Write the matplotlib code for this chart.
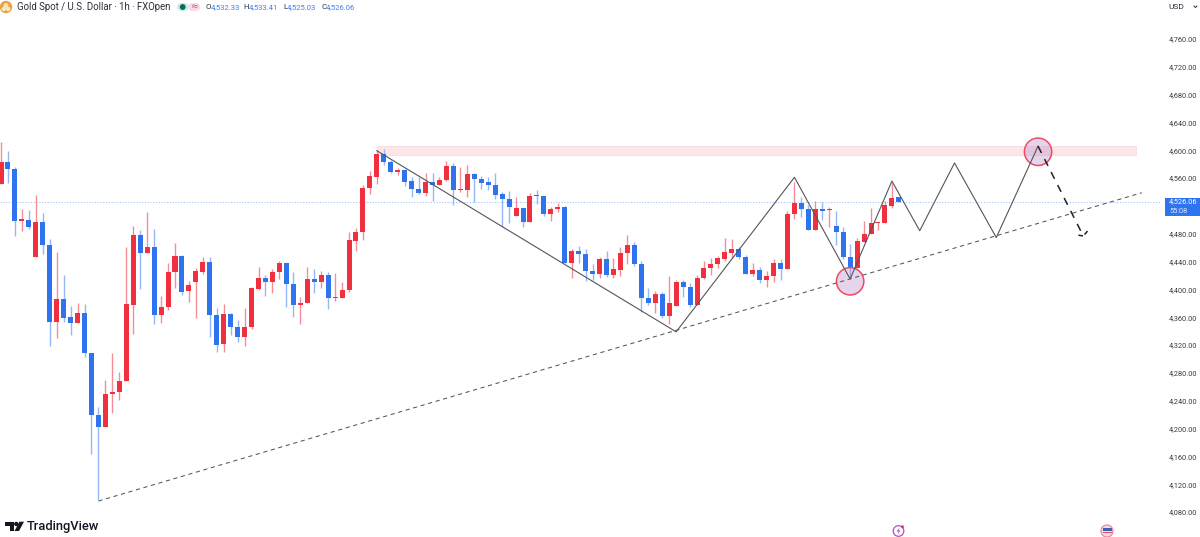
import matplotlib
matplotlib.use("Agg")
import matplotlib.pyplot as plt
from matplotlib.patches import Circle, Polygon, Rectangle, FancyBboxPatch

plt.rcParams['font.family'] = ['Roboto', 'DejaVu Sans']

# candles, one hour each
opens = [4552.0, 4582.8, 4572.7, 4498.4, 4500.3, 4446.2, 4497.0, 4463.4, 4353.2, 4386.7,
         4359.9, 4351.3, 4366.6, 4309.0, 4219.5, 4202.2, 4249.7, 4252.6, 4268.4, 4377.2,
         4477.8, 4452.8, 4461.4, 4362.8, 4374.3, 4425.1, 4448.1, 4397.3, 4410.3, 4424.6,
         4439.9, 4363.3, 4321.1, 4364.7, 4345.6, 4331.6, 4345.6, 4400.6, 4416.4, 4410.7,
         4425.1, 4437.6, 4407.4, 4378.1, 4380.5, 4415.0, 4410.3, 4420.3, 4388.1, 4388.1,
         4398.8, 4469.6, 4483.0, 4545.8, 4562.1, 4594.7, 4583.2, 4568.4, 4571.7, 4555.5,
         4544.8, 4538.2, 4554.9, 4550.1, 4557.3, 4577.9, 4543.0, 4543.4, 4566.4, 4558.3,
         4554.0, 4549.7, 4537.2, 4530.0, 4505.6, 4516.6, 4497.0, 4535.3, 4534.3, 4508.0,
         4515.6, 4518.9, 4437.6, 4454.8, 4451.4, 4426.5, 4422.2, 4443.3, 4421.2, 4427.9,
         4452.0, 4463.9, 4436.6, 4388.1, 4380.5, 4393.9, 4362.2, 4376.2, 4410.3, 4403.5,
         4377.2, 4416.4, 4431.0, 4436.6, 4444.2, 4452.0, 4458.6, 4446.2, 4422.2, 4427.9,
         4413.6, 4419.3, 4437.6, 4429.8, 4508.5, 4523.8, 4515.2, 4485.5, 4515.6, 4513.8,
         4490.8, 4482.6, 4447.1, 4430.4, 4468.2, 4479.7, 4495.5, 4495.9, 4520.4, 4532.33]
closes = [4582.8, 4572.7, 4498.8, 4500.8, 4489.3, 4497.0, 4463.4, 4353.2, 4386.7, 4359.4,
          4351.3, 4366.6, 4309.0, 4219.5, 4202.7, 4250.1, 4253.0, 4268.4, 4379.0, 4477.8,
          4452.8, 4461.4, 4362.8, 4374.3, 4425.5, 4448.1, 4396.3, 4406.4, 4426.5, 4439.9,
          4363.3, 4320.1, 4364.7, 4345.6, 4331.6, 4346.0, 4402.1, 4416.4, 4410.3, 4425.1,
          4437.6, 4407.4, 4378.1, 4380.9, 4415.0, 4410.3, 4420.3, 4387.3, 4389.1, 4399.6,
          4471.1, 4483.0, 4545.8, 4563.1, 4594.7, 4582.8, 4568.8, 4572.1, 4554.5, 4544.4,
          4538.2, 4554.9, 4550.1, 4557.3, 4577.9, 4543.0, 4544.0, 4566.4, 4558.3, 4553.4,
          4549.7, 4536.2, 4530.0, 4518.9, 4516.6, 4496.5, 4534.8, 4534.3, 4508.0, 4515.6,
          4518.9, 4437.6, 4454.8, 4451.4, 4426.5, 4422.2, 4443.3, 4421.2, 4429.0, 4452.0,
          4463.9, 4436.6, 4388.1, 4380.5, 4393.9, 4362.2, 4380.9, 4410.3, 4403.5, 4377.2,
          4416.9, 4431.3, 4436.6, 4445.2, 4453.4, 4458.6, 4446.2, 4422.2, 4427.9, 4413.6,
          4419.3, 4437.6, 4429.8, 4508.9, 4523.8, 4515.2, 4485.5, 4515.6, 4512.8, 4515.2,
          4482.6, 4447.1, 4430.4, 4469.2, 4480.1, 4495.5, 4496.9, 4521.8, 4531.5, 4526.06]
highs = [4612.4, 4599.4, 4576.4, 4515.6, 4514.2, 4535.3, 4509.5, 4472.0, 4453.8, 4421.2,
         4376.6, 4380.9, 4379.0, 4309.0, 4231.4, 4269.8, 4308.2, 4281.3, 4461.4, 4491.2,
         4485.5, 4511.3, 4486.5, 4390.6, 4438.4, 4466.3, 4449.1, 4412.6, 4430.4, 4447.1,
         4446.2, 4372.9, 4379.0, 4366.6, 4356.0, 4373.7, 4403.9, 4432.7, 4420.3, 4429.4,
         4440.9, 4439.9, 4425.5, 4388.7, 4432.7, 4429.8, 4426.9, 4424.6, 4423.2, 4410.3,
         4483.0, 4488.3, 4550.6, 4570.7, 4600.5, 4601.9, 4586.1, 4574.6, 4573.6, 4562.1,
         4561.2, 4567.0, 4567.0, 4561.2, 4584.6, 4582.2, 4575.6, 4578.5, 4567.8, 4563.1,
         4562.1, 4567.8, 4540.5, 4541.1, 4533.3, 4516.6, 4539.1, 4543.0, 4534.5, 4518.9,
         4523.8, 4520.0, 4458.1, 4462.9, 4458.6, 4436.6, 4446.2, 4455.3, 4444.8, 4460.6,
         4478.3, 4467.8, 4441.3, 4401.6, 4397.8, 4396.8, 4419.8, 4413.6, 4413.6, 4409.7,
         4420.8, 4441.3, 4445.2, 4448.1, 4474.0, 4472.9, 4461.4, 4449.5, 4437.6, 4431.8,
         4426.1, 4444.2, 4443.3, 4513.2, 4554.9, 4532.5, 4521.4, 4527.6, 4525.3, 4518.9,
         4513.2, 4489.3, 4465.3, 4474.4, 4498.8, 4516.6, 4497.0, 4527.1, 4552.6, 4533.41]
lows = [4552.0, 4553.4, 4476.8, 4484.4, 4487.3, 4446.2, 4450.9, 4318.7, 4329.8, 4353.6,
        4334.5, 4351.3, 4302.4, 4163.0, 4097.3, 4202.2, 4222.8, 4241.0, 4268.4, 4335.9,
        4400.6, 4452.8, 4350.3, 4352.2, 4370.4, 4402.1, 4392.4, 4381.9, 4358.5, 4421.8,
        4331.2, 4310.0, 4310.0, 4334.5, 4324.9, 4318.7, 4343.6, 4399.2, 4391.0, 4395.3,
        4414.6, 4375.2, 4360.4, 4350.3, 4380.5, 4395.3, 4402.1, 4371.9, 4383.0, 4388.1,
        4396.8, 4455.7, 4471.1, 4536.8, 4551.6, 4579.3, 4567.4, 4565.0, 4548.7, 4532.5,
        4537.6, 4534.3, 4526.7, 4550.1, 4555.5, 4521.4, 4540.5, 4532.5, 4525.3, 4544.4,
        4543.0, 4529.6, 4489.3, 4495.1, 4505.6, 4489.3, 4497.0, 4522.8, 4506.0, 4498.8,
        4511.8, 4437.6, 4416.0, 4438.4, 4412.1, 4413.6, 4416.9, 4417.9, 4416.4, 4419.8,
        4436.6, 4433.7, 4368.0, 4377.2, 4366.6, 4359.4, 4350.3, 4376.2, 4388.7, 4375.2,
        4377.2, 4414.6, 4420.8, 4430.4, 4440.5, 4445.2, 4444.2, 4422.2, 4419.3, 4409.7,
        4403.9, 4411.1, 4413.6, 4429.8, 4500.8, 4504.6, 4485.5, 4485.5, 4499.8, 4490.2,
        4463.9, 4444.2, 4416.4, 4430.4, 4468.2, 4479.7, 4485.5, 4495.9, 4516.6, 4525.03]

price_ticks = list(range(4080, 4761, 40))
last_price = 4526.06

# hand drawn stuff on the chart
zigzag_bars = [54, 97, 114, 122, 128, 132, 137, 143, 149]
zigzag_prices = [4599.4, 4339.0, 4561.2, 4415.0, 4555.8, 4484.4, 4581.8, 4474.6, 4606.0]
trend_bars = [14, 163.9]
trend_prices = [4095.8, 4539.0]
arrow_bars = [149, 155.5]
arrow_prices = [4606.0, 4476.8]
wing_bars = [154.8, 155.5, 156.2]
wing_prices = [4478.0, 4476.8, 4485.0]
zone_bars = [54, 163]
zone_prices = [4593.5, 4605.9]
circle_bars = [122, 149]
circle_prices = [4411.7, 4597.9]

UP = '#f0303f'
DOWN = '#2f74ee'
UP_WICK = '#f58d97'
DOWN_WICK = '#93b8f5'
LINE = '#55555a'

fig = plt.figure(figsize=(12, 5.37), dpi=100)
ax = fig.add_axes([0, 0, 1160 / 1200, 1])
ax.set_xlim(-0.144, 166.52)
ax.set_ylim(4044.1, 4816.07)

ax.add_patch(Rectangle((zone_bars[0], zone_prices[0]), zone_bars[1] - zone_bars[0],
                       zone_prices[1] - zone_prices[0], facecolor='#fde6e8',
                       edgecolor='#fbd6da', lw=0.5, zorder=1))
ax.axhline(last_price, color='#a5c3f5', lw=0.8, ls=(0, (1, 1.5)), zorder=1)

for i in range(len(opens)):
    up = closes[i] >= opens[i]
    ax.vlines(i, lows[i], highs[i], color=UP_WICK if up else DOWN_WICK, lw=1.0, zorder=2)
    bottom = min(opens[i], closes[i])
    height = max(abs(closes[i] - opens[i]), 1.5)
    ax.bar(i, height, bottom=bottom, width=0.72, color=UP if up else DOWN, lw=0, zorder=3)

ax.scatter(circle_bars, circle_prices, s=388, facecolor='#b784c8', alpha=0.35, lw=0, zorder=4)
ax.scatter(circle_bars, circle_prices, s=388, facecolor='none', edgecolor='#ee4a62', lw=1.1, zorder=5)

ax.plot(zigzag_bars, zigzag_prices, color=LINE, lw=0.8, zorder=6)
ax.plot(trend_bars, trend_prices, color=LINE, lw=0.75, ls=(0, (4, 3.5)), zorder=6)
ax.plot(arrow_bars, arrow_prices, color='#222222', lw=1.1, ls=(0, (5, 4.5)), zorder=6)
ax.plot(wing_bars, wing_prices, color='#222222', lw=1.1, ls=(0, (3, 1.5)), zorder=6)

for side in ax.spines.values():
    side.set_visible(False)
ax.set_xticks([])
ax.yaxis.tick_right()
ax.set_yticks(price_ticks)
ax.set_yticklabels([f"{p:,.2f}" for p in price_ticks])
ax.tick_params(axis='y', length=0, pad=6.5, labelsize=5.3, labelcolor='#3a3a3a')

# header, price tag and logos are placed in pixels
over = fig.add_axes([0, 0, 1, 1], zorder=10)
over.set_xlim(0, 1200)
over.set_ylim(537, 0)
over.axis('off')

over.add_patch(Circle((6, 7), 5.5, color='#e8a33a'))
over.add_patch(Circle((6, 5.5), 1.7, color='#fbe6c0'))
over.add_patch(Circle((3.8, 9), 1.5, color='#fbe6c0'))
over.add_patch(Circle((8.2, 9), 1.5, color='#fbe6c0'))
over.text(17, 7.2, "Gold Spot / U.S. Dollar · 1h · FXOpen", fontsize=6.9, color='#2a2e39', va='center')

over.add_patch(FancyBboxPatch((177, 3), 11.5, 8, boxstyle="round,pad=0,rounding_size=4", color='#cdeee6', lw=0))
over.add_patch(FancyBboxPatch((188.5, 3), 11.5, 8, boxstyle="round,pad=0,rounding_size=4", color='#fbdbe6', lw=0))
over.add_patch(Circle((182.7, 7), 2.2, color='#0b6b58'))
over.text(194, 7, "≈", fontsize=6.5, color='#e0487f', ha='center', va='center', family='DejaVu Sans')

ohlc_labels = ["O", "H", "L", "C"]
ohlc_values = ["4,532.33", "4,533.41", "4,525.03", "4,526.06"]
ohlc_label_x = [205, 243, 283, 321]
ohlc_value_x = [211, 249, 287, 326]
for lab, val, lx, vx in zip(ohlc_labels, ohlc_values, ohlc_label_x, ohlc_value_x):
    over.text(lx, 7.2, lab, fontsize=5.6, color='#2a2e39', va='center')
    over.text(vx, 7.2, val, fontsize=5.5, color='#3f7fe8', va='center')

over.text(1168, 6.8, "USD", fontsize=6.0, color='#2a2e39', va='center')
over.plot([1194, 1195.5, 1197], [6, 7.5, 6], color='#2a2e39', lw=0.7)

over.add_patch(Rectangle((1165, 197.7), 35, 18, color='#2f74ee', lw=0))
over.text(1169, 201.8, "4,526.06", fontsize=5.3, color='white', va='center')
over.text(1169, 211.2, "55:08", fontsize=5.3, color='#dbe7fb', va='center')

over.add_patch(Polygon([(5, 521.7), (14, 521.7), (14, 531), (9.5, 531), (9.5, 526), (5, 526)], color='#131722', lw=0))
over.add_patch(Circle((16.3, 524), 2.2, color='#131722', lw=0))
over.add_patch(Polygon([(19.5, 521.7), (24, 521.7), (19, 531), (14.5, 531)], color='#131722', lw=0))
over.text(27, 526.8, "TradingView", fontsize=9.3, fontweight='medium', color='#131722', va='center')

over.add_patch(Circle((898.5, 531), 5.3, facecolor='white', edgecolor='#b24fc4', lw=0.9))
over.add_patch(Polygon([(899.5, 527.5), (896.5, 531.5), (898.5, 531.5), (897.5, 534.5), (900.5, 530.5), (898.5, 530.5)], color='#b24fc4', lw=0))
over.add_patch(Circle((902.5, 526.8), 1.5, color='#ee3a50', lw=0))

over.add_patch(Circle((1107, 531), 6, facecolor='#f6dbe2', edgecolor='#e58aa5', lw=0.9))
over.add_patch(Rectangle((1102.5, 527.5), 9, 3, color='#3c5fb0', lw=0))
over.add_patch(Rectangle((1102.5, 532), 9, 1.3, color='#e0506a', lw=0))

fig.savefig("out.png", dpi=100)
